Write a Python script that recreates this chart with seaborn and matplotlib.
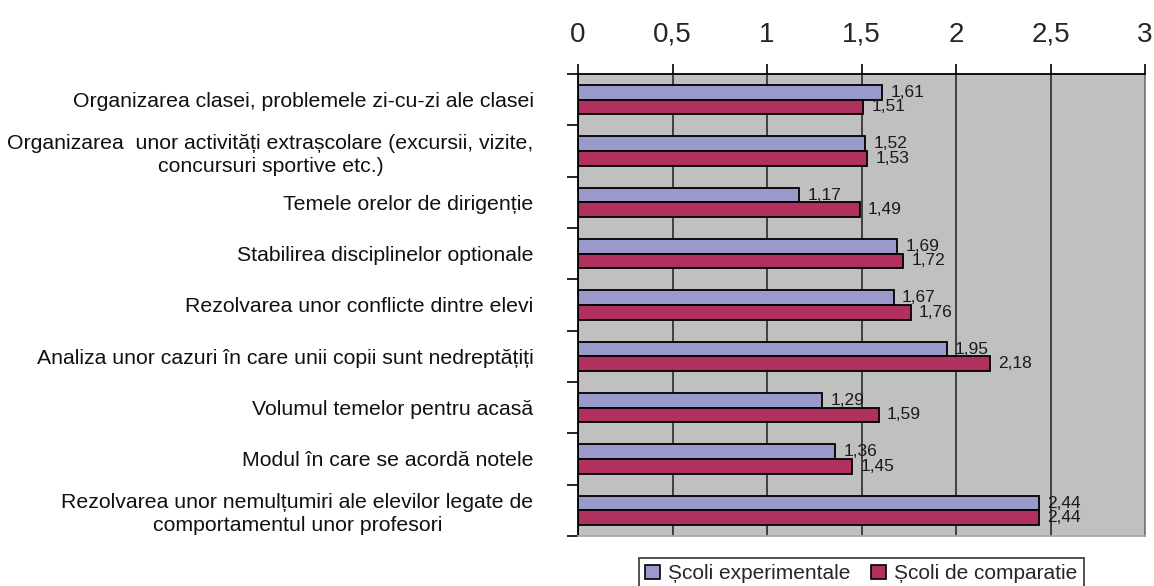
import matplotlib
matplotlib.use("Agg")
import matplotlib.pyplot as plt
import seaborn as sns
import pandas as pd
import numpy as np
from matplotlib.patches import Patch

categories = [
    "Organizarea clasei, problemele zi-cu-zi ale clasei",
    "Organizarea  unor activități extrașcolare (excursii, vizite,\nconcursuri sportive etc.)",
    "Temele orelor de dirigenție",
    "Stabilirea disciplinelor optionale",
    "Rezolvarea unor conflicte dintre elevi",
    "Analiza unor cazuri în care unii copii sunt nedreptățiți",
    "Volumul temelor pentru acasă",
    "Modul în care se acordă notele",
    "Rezolvarea unor nemulțumiri ale elevilor legate de\ncomportamentul unor profesori",
]
series_names = ["Școli experimentale", "Școli de comparatie"]
experimentale = [1.61, 1.52, 1.17, 1.69, 1.67, 1.95, 1.29, 1.36, 2.44]
comparatie = [1.51, 1.53, 1.49, 1.72, 1.76, 2.18, 1.59, 1.45, 2.44]
x_ticks = [0, 0.5, 1, 1.5, 2, 2.5, 3]
x_tick_labels = ["0", "0,5", "1", "1,5", "2", "2,5", "3"]

colors = ["#9999CC", "#B03060"]

df = pd.DataFrame({
    "cat": categories * 2,
    "val": experimentale + comparatie,
    "series": [series_names[0]] * len(categories) + [series_names[1]] * len(categories),
})

sns.set_theme(style="white")
plt.rcParams["font.family"] = ["Liberation Sans", "DejaVu Sans"]

fig = plt.figure(figsize=(11.54, 5.86), dpi=100)
ax = fig.add_axes([578 / 1154, 1 - 536 / 586, (1145 - 578) / 1154, (536 - 74) / 586])

sns.barplot(data=df, y="cat", x="val", hue="series", orient="h",
            order=categories, hue_order=series_names,
            palette=colors, width=0.57, edgecolor="black", linewidth=1.3,
            saturation=1, ax=ax, legend=False)

ax.set_facecolor("#C0C0C0")
ax.set_xlim(0, 3)
ax.set_ylim(len(categories) - 0.5, -0.5)
ax.set_xlabel("")
ax.set_ylabel("")

# x axis on top
ax.xaxis.tick_top()
ax.set_xticks(x_ticks)
ax.set_xticklabels(x_tick_labels, fontsize=20)
ax.tick_params(axis="x", which="major", top=True, bottom=False, length=7,
               width=1.2, color="black", pad=12)
ax.xaxis.grid(True, color="#2a2a2a", linewidth=1.2)
ax.set_axisbelow(True)

# y axis labels and boundary ticks
ax.set_yticks(range(len(categories)))
ax.set_yticklabels(categories, fontsize=15.3, multialignment="center",
                   linespacing=1.25, color="#111111")
ax.tick_params(axis="y", which="major", left=False, length=0, pad=32)
ax.set_yticks(np.arange(-0.5, len(categories), 1.0), minor=True)
ax.tick_params(axis="y", which="minor", left=True, length=8, width=1.2, color="black")

for side, col in [("top", "black"), ("left", "black"), ("right", "#808080"), ("bottom", "#A8A8A8")]:
    ax.spines[side].set_visible(True)
    ax.spines[side].set_color(col)
    ax.spines[side].set_linewidth(1.3)

# value labels
for cont in ax.containers:
    for bar in cont:
        w = bar.get_width()
        yc = bar.get_y() + bar.get_height() / 2
        ax.annotate(f"{w:.2f}".replace(".", ","), xy=(w, yc), xytext=(6, 0),
                    textcoords="offset points", va="center", ha="left",
                    fontsize=12.5, color="#1a1a1a")

handles = [Patch(facecolor=c, edgecolor="black", linewidth=1.2) for c in colors]
leg = fig.legend(handles, series_names, loc="lower center",
                 bbox_to_anchor=((578 + 1145) / 2 / 1154, -0.024), ncol=2,
                 fontsize=15, frameon=True, fancybox=False, edgecolor="black",
                 handlelength=0.7, handleheight=0.7, handletextpad=0.4,
                 columnspacing=1.0, borderpad=0.3)
leg.get_frame().set_linewidth(1.2)

fig.savefig("out.png", dpi=100)
